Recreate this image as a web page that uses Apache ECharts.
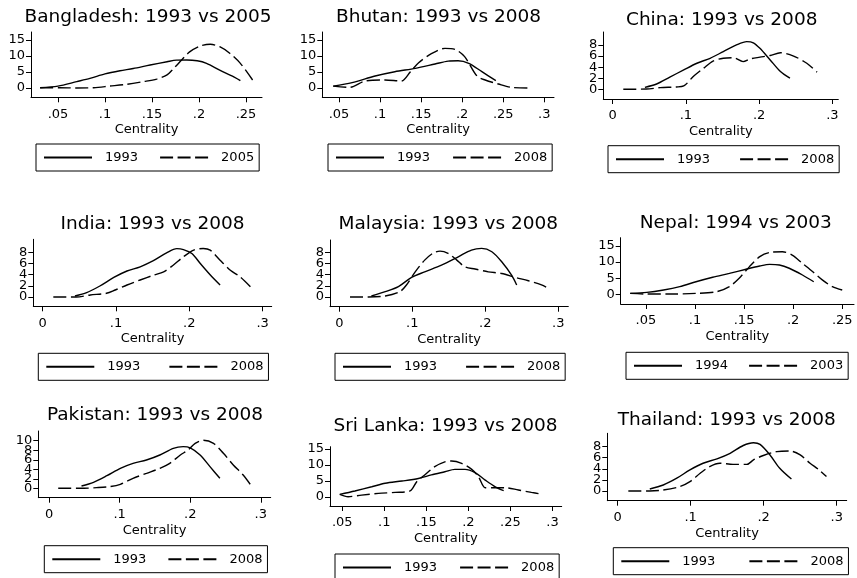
<!DOCTYPE html>
<html><head><meta charset="utf-8">
<script src="https://cdn.jsdelivr.net/npm/echarts@6/dist/echarts.min.js"></script>
<style>html,body{margin:0;padding:0;background:#fff}#c{width:857px;height:578px}</style>
</head><body><div id="c"></div>
<script>
// ---------------- data ----------------
const titles = ['Bangladesh: 1993 vs 2005','Bhutan: 1993 vs 2008','China: 1993 vs 2008',
  'India: 1993 vs 2008','Malaysia: 1993 vs 2008','Nepal: 1994 vs 2003',
  'Pakistan: 1993 vs 2008','Sri Lanka: 1993 vs 2008','Thailand: 1993 vs 2008'];
const legendNames = [['1993','2005'],['1993','2008'],['1993','2008'],['1993','2008'],['1993','2008'],
  ['1994','2003'],['1993','2008'],['1993','2008'],['1993','2008']];
const xTicksA = [0.05,0.1,0.15,0.2,0.25];
const xTicksB = [0.05,0.1,0.15,0.2,0.25,0.3];
const xTicksC = [0,0.1,0.2,0.3];
const yTicks15 = [0,5,10,15];
const yTicks8 = [0,2,4,6,8];
const yTicks10 = [0,2,4,6,8,10];

const bgd1993 = [[0.031,0.1],[0.05,0.6],[0.070,2.0],[0.084,3.0],[0.100,4.4],[0.116,5.4],[0.130,6.1],[0.148,7.2],[0.166,8.2],[0.176,8.7],[0.187,8.75],[0.198,8.5],[0.208,7.7],[0.222,5.6],[0.237,3.5],[0.244,2.3]];
const bgd2005 = [[0.031,0.1],[0.052,0.1],[0.070,0],[0.088,0.1],[0.105,0.6],[0.123,1.15],[0.141,2.0],[0.155,2.8],[0.166,4.1],[0.173,6.1],[0.182,8.9],[0.190,11.3],[0.201,13.1],[0.212,13.65],[0.222,12.9],[0.233,10.8],[0.244,7.7],[0.257,2.5]];
const btn1993 = [[0.043,0.6],[0.066,1.7],[0.094,3.75],[0.118,5.1],[0.143,6.15],[0.167,7.5],[0.183,8.4],[0.195,8.5],[0.208,7.7],[0.224,5.1],[0.241,2.3]];
const btn2008 = [[0.043,0.6],[0.063,0.2],[0.082,2.2],[0.106,2.5],[0.126,2.2],[0.137,5.1],[0.147,7.9],[0.163,10.8],[0.179,12.4],[0.191,12.1],[0.203,9.8],[0.218,3.75],[0.228,2.5],[0.244,1.25],[0.260,0.2],[0.281,0]];
const chn1993 = [[0.044,0.36],[0.060,0.96],[0.078,2.2],[0.097,3.5],[0.115,4.7],[0.133,5.6],[0.151,6.8],[0.169,8.0],[0.183,8.6],[0.192,8.4],[0.201,7.4],[0.215,5.3],[0.229,3.2],[0.242,2.0]];
const chn2008 = [[0.0145,0],[0.046,0.05],[0.065,0.3],[0.087,0.42],[0.097,0.6],[0.110,2.3],[0.124,3.8],[0.137,5.1],[0.151,5.6],[0.165,5.7],[0.178,5.0],[0.188,5.5],[0.201,5.8],[0.215,6.1],[0.229,6.6],[0.247,6.0],[0.265,4.7],[0.279,3.1]];
const ind1993 = [[0.044,0.18],[0.060,0.78],[0.078,1.97],[0.097,3.5],[0.115,4.66],[0.133,5.4],[0.151,6.5],[0.169,7.9],[0.183,8.66],[0.192,8.5],[0.2035,7.8],[0.215,6.0],[0.229,3.9],[0.242,2.15]];
const ind2008 = [[0.0145,0],[0.046,0],[0.065,0.36],[0.087,0.66],[0.099,1.25],[0.115,2.15],[0.133,3.05],[0.151,3.9],[0.165,4.5],[0.178,5.7],[0.192,7.2],[0.206,8.4],[0.219,8.7],[0.2285,8.4],[0.242,6.6],[0.256,4.8],[0.2695,3.6],[0.2855,1.56]];
const mys1993 = [[0.044,0.18],[0.063,0.95],[0.081,1.85],[0.099,3.5],[0.117,4.5],[0.140,5.7],[0.163,7.2],[0.181,8.4],[0.195,8.7],[0.209,8.1],[0.2225,6.3],[0.236,3.9],[0.243,2.15]];
const mys2008 = [[0.0147,0],[0.040,0],[0.063,0.18],[0.083,0.95],[0.092,2.15],[0.104,4.5],[0.117,6.6],[0.129,7.9],[0.138,8.2],[0.149,7.8],[0.161,6.6],[0.172,5.4],[0.186,5.0],[0.204,4.5],[0.2225,4.2],[0.241,3.5],[0.259,2.9],[0.277,2.15],[0.286,1.56]];
const npl1994 = [[0.034,0.3],[0.051,0.6],[0.068,1.35],[0.0845,2.4],[0.101,3.9],[0.118,5.3],[0.135,6.5],[0.152,7.8],[0.166,8.8],[0.176,9.3],[0.186,9.1],[0.196,8.1],[0.2095,6.0],[0.221,3.9]];
const npl2003 = [[0.034,0.3],[0.051,0.1],[0.074,0.1],[0.101,0.3],[0.122,0.8],[0.135,2.4],[0.145,5.0],[0.1555,8.6],[0.166,11.7],[0.176,13.0],[0.189,13.2],[0.199,12.2],[0.2095,9.6],[0.220,7.0],[0.230,4.4],[0.240,2.4],[0.250,1.35]];
const pak1993 = [[0.046,0.48],[0.063,1.26],[0.082,2.65],[0.101,4.2],[0.119,5.25],[0.138,5.95],[0.157,7.0],[0.176,8.4],[0.190,8.75],[0.200,8.5],[0.214,7.0],[0.228,4.55],[0.242,2.1]];
const pak2008 = [[0.013,0],[0.044,0],[0.0675,0.14],[0.086,0.35],[0.101,0.84],[0.119,2.1],[0.138,3.15],[0.157,4.2],[0.171,5.25],[0.186,7.0],[0.197,8.05],[0.207,9.45],[0.2186,10.1],[0.233,9.45],[0.247,7.35],[0.261,4.9],[0.275,2.8],[0.285,0.84]];
const lka1993 = [[0.047,0.83],[0.065,1.9],[0.085,3.2],[0.101,4.3],[0.121,5.0],[0.1405,5.8],[0.156,6.9],[0.172,7.9],[0.184,8.65],[0.196,8.65],[0.208,7.6],[0.220,5.3],[0.232,3.2],[0.242,2.0]];
const lka2008 = [[0.047,0.83],[0.057,0.1],[0.073,0.6],[0.093,1.15],[0.113,1.45],[0.1306,1.9],[0.1386,4.8],[0.148,6.9],[0.160,9.5],[0.172,11.0],[0.180,11.25],[0.192,10.5],[0.204,8.65],[0.212,6.35],[0.220,2.9],[0.228,2.9],[0.244,2.9],[0.2595,2.2],[0.275,1.45],[0.285,1.0]];
const tha1993 = [[0.044,0.36],[0.0625,1.08],[0.081,2.3],[0.099,3.8],[0.117,5.0],[0.136,5.8],[0.154,6.8],[0.172,8.2],[0.186,8.7],[0.195,8.4],[0.2086,6.5],[0.222,4.1],[0.238,2.15]];
const tha2008 = [[0.0146,0],[0.044,0],[0.0625,0.18],[0.085,0.78],[0.099,1.68],[0.113,3.2],[0.126,4.4],[0.140,5.0],[0.158,4.8],[0.177,4.8],[0.186,5.6],[0.1995,6.4],[0.218,7.1],[0.236,7.2],[0.250,6.5],[0.2635,5.0],[0.275,3.9],[0.286,2.6]];

const seriesData = [[bgd1993,bgd2005],[btn1993,btn2008],[chn1993,chn2008],[ind1993,ind2008],[mys1993,mys2008],
  [npl1994,npl2003],[pak1993,pak2008],[lka1993,lka2008],[tha1993,tha2008]];
const xTicks = [xTicksA,xTicksB,xTicksC,xTicksC,xTicksC,xTicksA,xTicksC,xTicksB,xTicksC];
const yTicks = [yTicks15,yTicks15,yTicks8,yTicks8,yTicks8,yTicks15,yTicks10,yTicks15,yTicks8];
const xRange = [[0.0213,0.267],[0.0297,0.3118],[-0.0128,0.308],[-0.0128,0.3124],[-0.0127,0.3137],[0.0243,0.262],[-0.0152,0.314],[0.0354,0.311],[-0.0142,0.3137]];
const yRange = [[-2.9,17.5],[-2.9,17.5],[-1.75,10.34],[-1.67,10.34],[-1.74,10.2],[-3.0,17.58],[-1.97,12.04],[-2.8,15.72],[-1.75,10.4]];

// ---------------- layout (pixels) ----------------
// grid: [left, top, right, bottom]; title centre x, top; legend box [left, top, width]
const gridBox = [[31,32,262,97.3],[322.3,32,554,97.3],[603.3,32,838.3,99],
  [33.3,239.3,271.7,306.3],[330,240,568.3,306.7],[620.7,237.7,854,304],
  [38.3,431,270.7,497.7],[330,446.7,561.7,506],[607.3,433.3,846.7,500.7]];
const titlePos = [[148,8],[438.5,8],[721.7,11],[152.5,215],[448.3,215],[735.8,213.5],[155,405.5],[445.5,417],[726.7,410.5]];
const legendBox = [[36,144,221],[328,144,222],[608,145.7,229],[38.3,353.3,228],[335,353.3,228],[626,352.3,220],[44.3,545.7,221],[335,554,222],[613.3,547.7,233]];

const FONT = 'DejaVu Sans';
const fmtX = v => v === 0 ? '0' : String(+v.toFixed(3)).replace(/^0\./, '.');
const yLabelStyle = {show:true, formatter:v => String(v), margin:6, color:'#000', fontSize:13, fontFamily:FONT,
  showMinLabel:true, showMaxLabel:true, hideOverlap:false};

const option = {animation:false, backgroundColor:'#fff', title:[], legend:[], grid:[], xAxis:[], yAxis:[], series:[]};
const N = titles.length;
// primary grids (curves, x axis, y ticks, every other y label)
titles.forEach((t, i) => {
  const g = gridBox[i], lb = legendBox[i];
  const labA = yTicks[i].filter((v, j) => j % 2 === 0);
  option.title.push({text:t, left:titlePos[i][0], top:titlePos[i][1], textAlign:'center', padding:0,
    textStyle:{fontFamily:FONT, fontSize:18.5, fontWeight:'normal', color:'#000'}});
  option.grid.push({left:g[0], top:g[1], width:g[2]-g[0], height:g[3]-g[1], outerBoundsMode:'none', containLabel:false});
  option.xAxis.push({type:'value', gridIndex:i, min:xRange[i][0], max:xRange[i][1],
    name:'Centrality', nameLocation:'middle', nameGap:26,
    nameTextStyle:{fontFamily:FONT, fontSize:13, color:'#000'},
    axisLine:{show:true, onZero:false, lineStyle:{color:'#000', width:1}},
    axisTick:{show:true, length:5, customValues:xTicks[i], lineStyle:{color:'#000', width:1}},
    axisLabel:{show:true, customValues:xTicks[i], formatter:fmtX, margin:10.5, color:'#000', fontSize:13, fontFamily:FONT,
      showMinLabel:true, showMaxLabel:true, hideOverlap:false},
    splitLine:{show:false}});
  option.yAxis.push({type:'value', gridIndex:i, min:yRange[i][0], max:yRange[i][1],
    axisLine:{show:true, onZero:false, lineStyle:{color:'#000', width:1}},
    axisTick:{show:true, length:5, customValues:yTicks[i], lineStyle:{color:'#000', width:1}},
    axisLabel:Object.assign({customValues:labA}, yLabelStyle),
    splitLine:{show:false}});
  option.legend.push({data:legendNames[i], left:lb[0], top:lb[1], orient:'horizontal',
    itemWidth:48, itemHeight:14, itemGap:lb[2]-200, padding:[7,5,7,7],
    borderColor:'#000', borderWidth:1, borderRadius:0, selectedMode:false,
    itemStyle:{opacity:0, color:'rgba(0,0,0,0)', borderWidth:0, borderColor:'rgba(0,0,0,0)'},
    textStyle:{fontFamily:FONT, fontSize:13, color:'#000', padding:[0,0,0,8]}});
  seriesData[i].forEach((d, k) => {
    option.series.push({type:'line', name:legendNames[i][k], xAxisIndex:i, yAxisIndex:i, data:d,
      symbol:'none', showSymbol:false, smooth:0.3, silent:true,
      itemStyle:{color:'#000'},
      lineStyle:{color:'#000', width:1.4, type: k ? [13,4.5] : 'solid'}});
  });
});
// overlay grids: the remaining y labels (kept on a separate axis so none is dropped)
titles.forEach((t, i) => {
  const g = gridBox[i];
  const labB = yTicks[i].filter((v, j) => j % 2 === 1);
  option.grid.push({left:g[0], top:g[1], width:g[2]-g[0], height:g[3]-g[1], outerBoundsMode:'none', containLabel:false});
  option.xAxis.push({type:'value', gridIndex:N+i, min:xRange[i][0], max:xRange[i][1], show:false});
  option.yAxis.push({type:'value', gridIndex:N+i, min:yRange[i][0], max:yRange[i][1],
    axisLine:{show:false, onZero:false}, axisTick:{show:false},
    axisLabel:Object.assign({customValues:labB}, yLabelStyle),
    splitLine:{show:false}});
});
const chart = echarts.init(document.getElementById('c'), null, {renderer:'canvas'});
chart.setOption(option);
</script></body></html>
